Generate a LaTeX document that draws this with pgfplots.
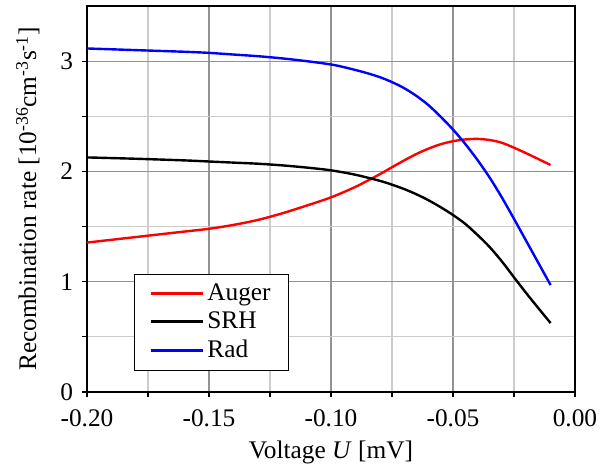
\documentclass[border=0pt]{standalone}
\usepackage{fontspec}
\setmainfont{Liberation Serif}
\usepackage{pgfplots}
\pgfplotsset{compat=1.18}
\begin{document}
\fontsize{19}{22}\selectfont
\begin{tikzpicture}[x=0.75pt,y=0.75pt]
\begin{axis}[
  at={(0,0)}, anchor=south west,
  scale only axis, width=366pt, height=289.5pt,
  xmin=-0.2, xmax=0, ymin=0, ymax=3.5,
  xtick={-0.2,-0.15,-0.1,-0.05,0},
  minor xtick={-0.175,-0.125,-0.075,-0.025},
  ytick={0,1,2,3},
  minor ytick={0.5,1.5,2.5},
  tick pos=left, tick align=outside,
  major tick length=4pt, minor tick length=4pt,
  every tick/.style={black, line width=0.8pt},
  grid=both,
  major grid style={gray!85, line width=0.9pt},
  minor grid style={gray!40, line width=0.9pt},
  axis line style={black, line width=0.9pt},
  /pgf/number format/assume math mode=true,
  xticklabel style={/pgf/number format/fixed, /pgf/number format/fixed zerofill, /pgf/number format/precision=2, font=\fontsize{19}{22}\selectfont, yshift=-3pt},
  yticklabel style={font=\fontsize{19}{22}\selectfont},
  xlabel={Voltage \textit{U} [mV]},
  ylabel={Recombination rate [10\textsuperscript{-36}cm\textsuperscript{-3}s\textsuperscript{-1}]},
  label style={font=\fontsize{19}{22}\selectfont},
  xlabel style={at={(axis description cs:0.5,0)}, anchor=north, yshift=-30pt},
  ylabel style={at={(axis description cs:0,0.5)}, anchor=south, yshift=29pt},
  legend style={at={(axis description cs:0.096,0.055)}, anchor=south west,
    draw=black, line width=0.9pt, font=\fontsize{19}{22}\selectfont,
    row sep=1.5pt, inner xsep=11.5pt, inner ysep=5pt},
  legend cell align=left,
  legend image code/.code={\draw[#1, line width=2.2pt] (0pt,0pt) -- (39pt,0pt);},
]
\addplot[red, line width=1.8pt, smooth] coordinates {
(-0.20,1.355)(-0.19,1.38)(-0.18,1.405)(-0.17,1.43)(-0.16,1.455)(-0.15,1.48)
(-0.14,1.515)(-0.13,1.56)(-0.12,1.62)(-0.11,1.69)(-0.10,1.765)(-0.09,1.86)
(-0.08,1.975)(-0.075,2.038)(-0.07,2.10)(-0.065,2.158)(-0.06,2.207)(-0.055,2.247)(-0.05,2.274)
(-0.045,2.29)(-0.04,2.295)(-0.035,2.285)(-0.03,2.26)(-0.025,2.215)(-0.02,2.165)
(-0.015,2.112)(-0.01,2.058)};
\addlegendentry{Auger}
\addplot[black, line width=1.8pt, smooth] coordinates {
(-0.20,2.127)(-0.18,2.115)(-0.16,2.10)(-0.15,2.09)(-0.14,2.08)(-0.13,2.07)
(-0.12,2.055)(-0.11,2.035)(-0.10,2.01)(-0.09,1.97)(-0.08,1.915)(-0.075,1.88)(-0.07,1.84)
(-0.065,1.793)(-0.06,1.738)(-0.055,1.675)(-0.05,1.605)(-0.045,1.525)(-0.04,1.425)
(-0.035,1.315)(-0.03,1.185)(-0.025,1.04)(-0.02,0.897)(-0.015,0.76)(-0.01,0.625)};
\addlegendentry{SRH}
\addplot[blue, line width=1.8pt, smooth] coordinates {
(-0.20,3.115)(-0.18,3.10)(-0.16,3.085)(-0.15,3.075)(-0.14,3.06)(-0.13,3.045)
(-0.12,3.025)(-0.11,3.00)(-0.10,2.97)(-0.095,2.947)(-0.09,2.92)(-0.085,2.89)(-0.08,2.855)(-0.075,2.81)
(-0.07,2.755)(-0.065,2.685)(-0.06,2.60)(-0.055,2.495)(-0.05,2.38)(-0.045,2.25)
(-0.04,2.105)(-0.035,1.945)(-0.03,1.765)(-0.025,1.57)(-0.02,1.37)(-0.015,1.17)
(-0.01,0.97)};
\addlegendentry{Rad}
\end{axis}
\path (-87,-76) rectangle (521,392);
\end{tikzpicture}
\end{document}
